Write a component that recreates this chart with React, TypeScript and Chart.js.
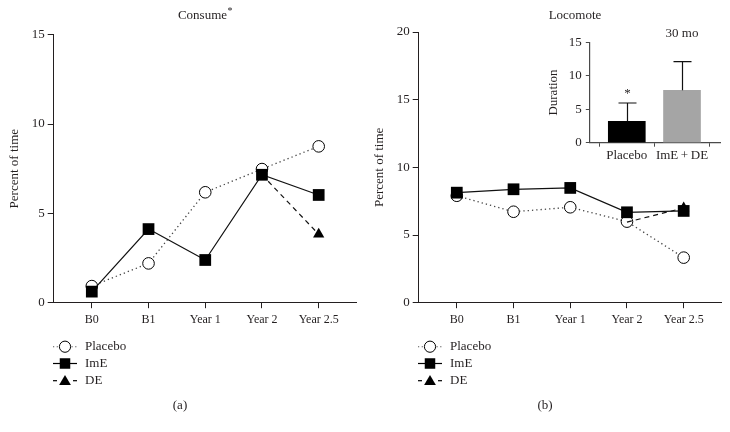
import React, { useEffect, useRef } from 'react';
import { Chart, registerables } from 'chart.js';

Chart.register(...registerables);

// ---------- data ----------
const categories = ['B0', 'B1', 'Year 1', 'Year 2', 'Year 2.5'];
const legendLabels = ['Placebo', 'ImE', 'DE'];

const consumeTitle = 'Consume';
const consumePlacebo = [0.93, 2.2, 6.18, 7.48, 8.75];
const consumeImE = [0.62, 4.12, 2.39, 7.16, 6.03];
const consumeDE: (number | null)[] = [null, null, null, 7.16, 3.83];
const consumeYTicks = [0, 5, 10, 15];

const locomoteTitle = 'Locomote';
const locomotePlacebo = [7.9, 6.72, 7.05, 5.99, 3.33];
const locomoteImE = [8.13, 8.38, 8.48, 6.68, 6.78];
const locomoteDE: (number | null)[] = [null, null, null, 5.95, 7.0];
const locomoteYTicks = [0, 5, 10, 15, 20];

const yAxisTitle = 'Percent of time';
const panelLabels = ['(a)', '(b)'];

const insetTitle = '30 mo';
const insetAxisTitle = 'Duration';
const insetCategories = ['Placebo', 'ImE\u2009+\u2009DE'];
const insetValues = [3.2, 7.83];
const insetErrorTops = [5.93, 12.1];
const insetYTicks = [0, 5, 10, 15];
const insetSignificance = ['*', ''];

// ---------- styles ----------
const FONT = '"Liberation Serif", "Times New Roman", serif';
const TEXT = '#231f20';
const AXIS = '#231f20';

const pts = (vals: (number | null)[]) =>
  vals.map((v, i) => (v == null ? null : { x: i, y: v })).filter(Boolean) as { x: number; y: number }[];

function drawSquare(ctx: CanvasRenderingContext2D, x: number, y: number, s: number) {
  ctx.fillStyle = '#000';
  ctx.fillRect(x - s / 2, y - s / 2, s, s);
}
function drawTriangle(ctx: CanvasRenderingContext2D, x: number, y: number, r: number) {
  ctx.fillStyle = '#000';
  ctx.beginPath();
  ctx.moveTo(x, y - r);
  ctx.lineTo(x + r * Math.sin(Math.PI / 3), y + r * 0.5);
  ctx.lineTo(x - r * Math.sin(Math.PI / 3), y + r * 0.5);
  ctx.closePath();
  ctx.fill();
}
function drawCircle(ctx: CanvasRenderingContext2D, x: number, y: number, r: number) {
  ctx.beginPath();
  ctx.arc(x, y, r, 0, Math.PI * 2);
  ctx.fillStyle = '#fff';
  ctx.fill();
  ctx.strokeStyle = '#000';
  ctx.lineWidth = 1;
  ctx.stroke();
}

interface MainCfg {
  title: string;
  titleCx: number;
  panel: string;
  placebo: number[];
  imE: number[];
  de: (number | null)[];
  yTicks: number[];
  chartTop: number;
  chartRight: number;
}

function makeMain(canvas: HTMLCanvasElement, cfg: MainCfg) {
  const deData = pts(cfg.de);
  const deRadii = deData.map((_, i) => (i === 0 ? 0 : 6.5));
  const yMax = cfg.yTicks[cfg.yTicks.length - 1];

  const textPlugin = {
    id: 'mainText',
    afterDraw(chart: any) {
      const ctx: CanvasRenderingContext2D = chart.ctx;
      const area = chart.chartArea;
      ctx.save();
      ctx.fillStyle = TEXT;
      ctx.font = `13px ${FONT}`;
      ctx.textBaseline = 'middle';
      const star = cfg.title === consumeTitle ? '*' : '';
      const w1 = ctx.measureText(cfg.title).width;
      ctx.font = `10px ${FONT}`;
      const w2 = star ? ctx.measureText(star).width : 0;
      const sx = cfg.titleCx - (w1 + w2) / 2;
      ctx.font = `13px ${FONT}`;
      ctx.textAlign = 'left';
      ctx.fillText(cfg.title, sx, 15.5);
      if (star) {
        ctx.font = `10px ${FONT}`;
        ctx.fillText(star, sx + w1 + 0.5, 11);
      }
      ctx.font = `13px ${FONT}`;
      ctx.save();
      ctx.translate(15, (area.top + area.bottom) / 2);
      ctx.rotate(-Math.PI / 2);
      ctx.textAlign = 'center';
      ctx.fillText(yAxisTitle, 0, 0);
      ctx.restore();

      const rows = [346.7, 363.5, 380.7];
      const lx0 = 53, lx1 = 77, mx = 65;
      ctx.strokeStyle = '#555';
      ctx.lineWidth = 1.1;
      ctx.setLineDash([1.2, 2.5]);
      ctx.beginPath(); ctx.moveTo(lx0, rows[0]); ctx.lineTo(lx1, rows[0]); ctx.stroke();
      ctx.setLineDash([]);
      drawCircle(ctx, mx, rows[0], 5.6);
      ctx.strokeStyle = '#000';
      ctx.lineWidth = 1.2;
      ctx.beginPath(); ctx.moveTo(lx0, rows[1]); ctx.lineTo(lx1, rows[1]); ctx.stroke();
      drawSquare(ctx, mx, rows[1], 10.5);
      ctx.beginPath(); ctx.moveTo(lx0, rows[2]); ctx.lineTo(lx0 + 4, rows[2]); ctx.stroke();
      ctx.beginPath(); ctx.moveTo(lx1 - 4, rows[2]); ctx.lineTo(lx1, rows[2]); ctx.stroke();
      drawTriangle(ctx, mx, rows[2] + 1, 6.8);
      ctx.fillStyle = TEXT;
      ctx.font = `13px ${FONT}`;
      ctx.textAlign = 'left';
      legendLabels.forEach((l, i) => ctx.fillText(l, 85, rows[i]));

      ctx.textAlign = 'center';
      ctx.fillText(cfg.panel, 180, 406);
      ctx.restore();
    },
  };

  return new Chart(canvas, {
    type: 'line',
    data: {
      datasets: [
        {
          label: legendLabels[1],
          data: pts(cfg.imE),
          borderColor: '#111',
          borderWidth: 1.2,
          pointStyle: 'rect',
          pointRadius: 8.3,
          pointBackgroundColor: '#000',
          pointBorderColor: '#000',
          pointBorderWidth: 0,
          order: 0,
          clip: false,
          tension: 0,
        },
        {
          label: legendLabels[2],
          data: deData,
          borderColor: '#111',
          borderWidth: 1.2,
          borderDash: [5, 4],
          pointStyle: 'triangle',
          pointRadius: deRadii,
          pointBackgroundColor: '#000',
          pointBorderColor: '#000',
          pointBorderWidth: 0,
          order: 1,
          clip: false,
          tension: 0,
        },
        {
          label: legendLabels[0],
          data: pts(cfg.placebo),
          borderColor: '#444',
          borderWidth: 1.3,
          borderDash: [1.3, 3],
          pointStyle: 'circle',
          pointRadius: 5.8,
          pointBackgroundColor: '#fff',
          pointBorderColor: '#000',
          pointBorderWidth: 1,
          order: 2,
          clip: false,
          tension: 0,
        },
      ] as any,
    },
    options: {
      responsive: false,
      animation: false,
      events: [],
      layout: { padding: { left: 0, top: cfg.chartTop, right: cfg.chartRight, bottom: 0 } },
      plugins: { legend: { display: false }, tooltip: { enabled: false }, title: { display: false } },
      scales: {
        x: {
          type: 'linear',
          min: -0.684,
          max: 4.67,
          afterBuildTicks: (s: any) => {
            s.ticks = categories.map((_, i) => ({ value: i }));
          },
          afterFit: (s: any) => {
            s.height = 432 - 302.7;
          },
          ticks: {
            callback: (v: any) => categories[v] ?? '',
            font: { family: FONT, size: 12 },
            color: TEXT,
            padding: 4.5,
            maxRotation: 0,
            autoSkip: false,
          },
          grid: { display: true, drawOnChartArea: false, drawTicks: true, tickLength: 5.5, color: AXIS, lineWidth: 1 },
          border: { display: true, color: AXIS, width: 1 },
        },
        y: {
          type: 'linear',
          min: 0,
          max: yMax,
          afterBuildTicks: (s: any) => {
            s.ticks = cfg.yTicks.map((v) => ({ value: v }));
          },
          afterFit: (s: any) => {
            s.width = 53;
          },
          ticks: {
            font: { family: FONT, size: 13 },
            color: TEXT,
            padding: 3,
          },
          grid: { display: true, drawOnChartArea: false, drawTicks: true, tickLength: 5.3, color: AXIS, lineWidth: 1 },
          border: { display: true, color: AXIS, width: 1 },
        },
      },
    } as any,
    plugins: [textPlugin],
  });
}

function makeInset(canvas: HTMLCanvasElement) {
  const INSET_AXIS = '#4a4a4a';
  const insetPlugin = {
    id: 'insetExtras',
    afterDatasetsDraw(chart: any) {
      const ctx: CanvasRenderingContext2D = chart.ctx;
      const meta = chart.getDatasetMeta(0);
      const ys = chart.scales.y;
      ctx.save();
      ctx.strokeStyle = '#111';
      ctx.lineWidth = 1.2;
      meta.data.forEach((el: any, i: number) => {
        const top = ys.getPixelForValue(insetErrorTops[i]);
        const x = Math.round(el.x) + 0.5;
        ctx.beginPath();
        ctx.moveTo(x, el.y);
        ctx.lineTo(x, top);
        ctx.moveTo(x - 9, top);
        ctx.lineTo(x + 9, top);
        ctx.stroke();
        if (insetSignificance[i]) {
          ctx.fillStyle = TEXT;
          ctx.font = `13px ${FONT}`;
          ctx.textAlign = 'center';
          ctx.textBaseline = 'middle';
          ctx.fillText(insetSignificance[i], x, top - 9);
        }
      });
      ctx.fillStyle = TEXT;
      ctx.font = `13px ${FONT}`;
      ctx.textAlign = 'center';
      ctx.textBaseline = 'middle';
      const x1 = meta.data[1].x;
      ctx.fillText(insetTitle, x1, 14);
      ctx.save();
      ctx.translate(13.3, (chart.chartArea.top + chart.chartArea.bottom) / 2);
      ctx.rotate(-Math.PI / 2);
      ctx.fillText(insetAxisTitle, 0, 0);
      ctx.restore();
      ctx.restore();
    },
  };

  return new Chart(canvas, {
    type: 'bar',
    data: {
      datasets: [
        {
          data: insetValues.map((v, i) => ({ x: i, y: v })),
          backgroundColor: ['#000000', '#a5a5a5'],
          borderWidth: 0,
          barThickness: 37,
        },
      ] as any,
    },
    options: {
      responsive: false,
      animation: false,
      events: [],
      layout: { padding: { left: 0, top: 22.3, right: 5, bottom: 0 } },
      plugins: { legend: { display: false }, tooltip: { enabled: false } },
      scales: {
        x: {
          type: 'linear',
          min: -0.679,
          max: 1.688,
          offset: false,
          afterBuildTicks: (s: any) => {
            s.ticks = insetCategories.map((_, i) => ({ value: i }));
          },
          afterFit: (s: any) => {
            s.height = 150 - 122.7;
          },
          ticks: {
            callback: (v: any) => insetCategories[v] ?? '',
            font: { family: FONT, size: 13 },
            color: TEXT,
            padding: 1.5,
            maxRotation: 0,
            autoSkip: false,
          },
          grid: { display: true, drawOnChartArea: false, drawTicks: true, tickLength: 4, color: INSET_AXIS, lineWidth: 1 },
          border: { display: true, color: INSET_AXIS, width: 1.2 },
        },
        y: {
          type: 'linear',
          min: 0,
          max: 15,
          afterBuildTicks: (s: any) => {
            s.ticks = insetYTicks.map((v) => ({ value: v }));
          },
          afterFit: (s: any) => {
            s.width = 49.3;
          },
          ticks: { font: { family: FONT, size: 13 }, color: TEXT, padding: 4 },
          grid: { display: true, drawOnChartArea: false, drawTicks: true, tickLength: 3.5, color: INSET_AXIS, lineWidth: 1 },
          border: { display: true, color: INSET_AXIS, width: 1.2 },
        },
      },
    } as any,
    plugins: [insetPlugin],
  });
}

export default function App() {
  const leftRef = useRef<HTMLCanvasElement>(null);
  const rightRef = useRef<HTMLCanvasElement>(null);
  const insetRef = useRef<HTMLCanvasElement>(null);

  useEffect(() => {
    const charts: Chart[] = [];
    if (leftRef.current) {
      charts.push(
        makeMain(leftRef.current, {
          title: consumeTitle,
          titleCx: 205,
          panel: panelLabels[0],
          placebo: consumePlacebo,
          imE: consumeImE,
          de: consumeDE,
          yTicks: consumeYTicks,
          chartTop: 34.7,
          chartRight: 365 - 358.3,
        })
      );
    }
    if (rightRef.current) {
      charts.push(
        makeMain(rightRef.current, {
          title: locomoteTitle,
          titleCx: 210,
          panel: panelLabels[1],
          placebo: locomotePlacebo,
          imE: locomoteImE,
          de: locomoteDE,
          yTicks: locomoteYTicks,
          chartTop: 32,
          chartRight: 365 - 356.7,
        })
      );
    }
    if (insetRef.current) charts.push(makeInset(insetRef.current));
    return () => charts.forEach((c) => c.destroy());
  }, []);

  return (
    <div style={{ position: 'absolute', left: 0, top: 0, width: 730, height: 432, background: '#fff', overflow: 'hidden' }}>
      <canvas ref={leftRef} width={365} height={432} style={{ position: 'absolute', left: 0, top: 0, width: 365, height: 432 }} />
      <canvas ref={rightRef} width={365} height={432} style={{ position: 'absolute', left: 365, top: 0, width: 365, height: 432 }} />
      <canvas ref={insetRef} width={185} height={150} style={{ position: 'absolute', left: 540, top: 20, width: 185, height: 150 }} />
    </div>
  );
}
